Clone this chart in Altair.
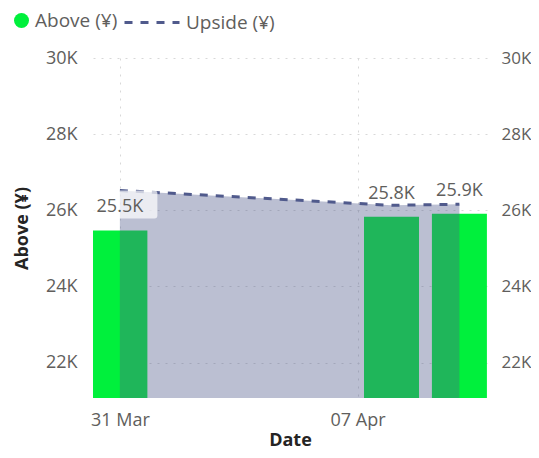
import altair as alt
import pandas as pd

# ---- data ----
dates = ["2024-03-31", "2024-04-08", "2024-04-10"]
above = [25470, 25830, 25910]
upside = [26520, 26130, 26160]

y_ticks = [22000, 24000, 26000, 28000, 30000]
y_domain = [21070, 30000]
x_tick_dates = [(2024, 3, 31), (2024, 4, 7)]

series_names = ["Above (¥)", "Upside (¥)"]

GREEN = "#00F03C"
LINE = "#505A8C"
LABEL = "#605E5C"
TITLE = "#252423"
GRID = "#D8D8D8"
FONT = "Segoe UI, Open Sans, sans-serif"

df = pd.DataFrame({"date": dates, "above": above, "upside": upside})
base = alt.Chart(df).transform_calculate(
    label="format(datum.above / 1000, '.1f') + 'K'",
    s_above=f"'{series_names[0]}'",
    s_upside=f"'{series_names[1]}'",
)

xscale = alt.Scale(
    type="utc",
    nice=False,
    padding=0,
    domain=[
        alt.DateTime(year=2024, month=3, date=30, hours=5, utc=True),
        alt.DateTime(year=2024, month=4, date=10, hours=19, minutes=30, utc=True),
    ],
)
yscale = alt.Scale(domain=y_domain, nice=False, zero=False, padding=0)

X = alt.X(
    "date:T",
    scale=xscale,
    axis=alt.Axis(
        values=[alt.DateTime(year=a, month=b, date=c, utc=True) for a, b, c in x_tick_dates],
        labelExpr="utcFormat(datum.value, '%d %b')",
        labelColor=LABEL,
        labelFontSize=18,
        labelPadding=13,
        tickSize=0,
        domain=False,
        grid=True,
        gridColor=GRID,
        gridDash=[2, 6],
        title="Date",
        titleFontSize=18,
        titleFontWeight="bold",
        titleColor=TITLE,
        titlePadding=2,
    ),
)

left_axis = alt.Axis(
    values=y_ticks,
    labelExpr="datum.value / 1000 + 'K'",
    labelColor=LABEL,
    labelFontSize=18,
    labelPadding=16,
    tickSize=0,
    domain=False,
    grid=True,
    gridColor=GRID,
    gridDash=[2, 6],
    title="Above (¥)",
    titleFontSize=18,
    titleFontWeight="bold",
    titleColor=TITLE,
    titlePadding=14,
)
right_axis = alt.Axis(
    orient="right",
    values=y_ticks,
    labelExpr="datum.value / 1000 + 'K'",
    labelColor=LABEL,
    labelFontSize=17,
    labelPadding=14,
    tickSize=0,
    domain=False,
    grid=False,
    title=None,
)

bars = base.mark_bar(size=55, clip=True).encode(
    x=X,
    y=alt.Y("above:Q", scale=yscale, axis=left_axis),
    color=alt.Color(
        "s_above:N",
        scale=alt.Scale(domain=[series_names[0]], range=[GREEN]),
        legend=alt.Legend(
            orient="none",
            legendX=-81,
            legendY=-47,
            direction="horizontal",
            title=None,
            symbolType="circle",
            symbolSize=225,
            symbolOpacity=1,
            labelFontSize=19,
            labelColor=LABEL,
            labelOffset=4,
            labelLimit=300,
        ),
    ),
)

area = base.mark_area(color=LINE, opacity=0.39, clip=True).encode(
    x=X,
    y=alt.Y("upside:Q", scale=yscale, axis=None),
)

line = base.mark_line(color=LINE, strokeWidth=3).encode(
    x=X,
    y=alt.Y("upside:Q", scale=yscale, axis=right_axis),
    strokeDash=alt.StrokeDash(
        "s_upside:N",
        scale=alt.Scale(domain=[series_names[1]], range=[[8, 8]]),
        legend=alt.Legend(
            orient="none",
            legendX=30,
            legendY=-64.5,
            direction="horizontal",
            title=None,
            symbolType="stroke",
            symbolSize=3025,
            symbolStrokeWidth=3,
            symbolStrokeColor=LINE,
            labelFontSize=19,
            labelColor=LABEL,
            labelOffset=5,
            labelLimit=300,
        ),
    ),
)

box_path = (
    "M-0.91,-0.43 L0.91,-0.43 Q1,-0.43 1,-0.34 L1,0.34 Q1,0.43 0.91,0.43 "
    "L-0.91,0.43 Q-1,0.43 -1,0.34 L-1,-0.34 Q-1,-0.43 -0.91,-0.43 Z"
)
label_box = base.transform_filter(
    f"time(datum.date) == time(toDate('{dates[0]}'))"
).mark_point(
    shape=box_path, size=4225, filled=True, color="white", opacity=0.7,
    xOffset=5, yOffset=-26,
).encode(
    x=X,
    y=alt.Y("above:Q", scale=yscale, axis=None),
)

labels = base.mark_text(fontSize=18, color=LABEL, baseline="middle", yOffset=-23).encode(
    x=X,
    y=alt.Y("above:Q", scale=yscale, axis=None),
    text="label:N",
)

chart = (
    alt.layer(bars, area, line, label_box, labels)
    .resolve_scale(y="independent")
    .properties(
        width=394,
        height=340,
        padding={"left": 85, "top": 50, "right": 44, "bottom": 52},
        autosize=alt.AutoSizeParams(type="none"),
    )
    .configure(font=FONT)
    .configure_view(strokeWidth=0, stroke="transparent")
    .configure_axis(domain=False)
)

chart.save("out.html", embed_options={"renderer": "svg", "actions": False})
